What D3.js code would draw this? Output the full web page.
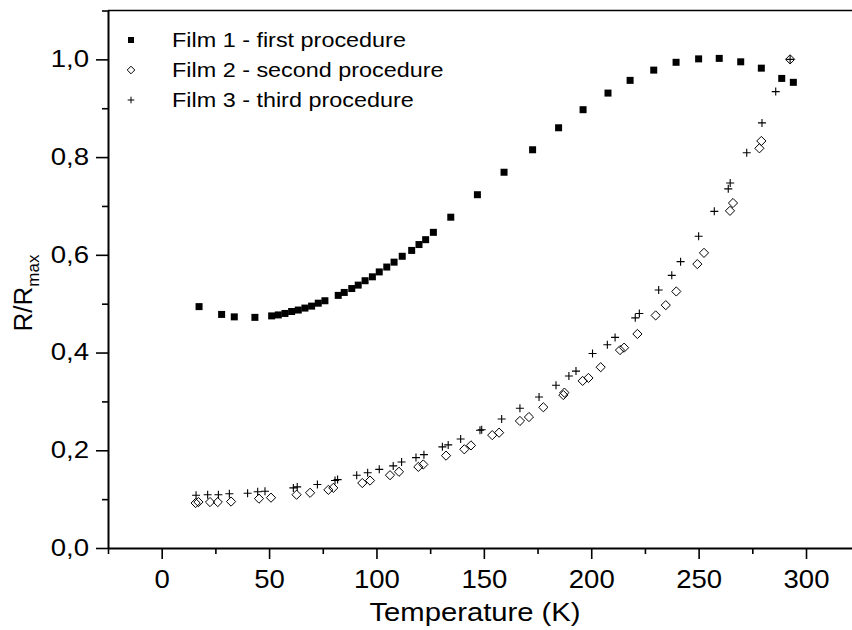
<!DOCTYPE html>
<html>
<head>
<meta charset="utf-8">
<script src="https://cdn.jsdelivr.net/npm/d3@7"></script>
<style>
  body { margin: 0; background: #fff; }
  svg { display: block; font-family: Arial, "Liberation Sans", sans-serif; }
</style>
</head>
<body>
<div id="chart"></div>
<script>
// Film 1 - first procedure (filled squares)
const film1T = [17.4, 27.9, 33.8, 43.4, 51.2, 54.3, 57.4, 60.5, 63.6, 66.7, 69.8, 72.9, 76.0,
  82.2, 85.0, 88.5, 91.5, 94.7, 98.1, 101.3, 104.8, 108.2, 112.0, 116.4, 119.8, 122.9, 126.5,
  134.6, 147.0, 159.4, 172.7, 184.8, 196.2, 207.8, 218.1, 229.1, 239.5, 250.0, 259.6, 269.6,
  279.2, 288.7, 294.1];
const film1R = [0.494, 0.478, 0.473, 0.472, 0.475, 0.477, 0.480, 0.484, 0.487, 0.491, 0.495, 0.501, 0.506,
  0.517, 0.523, 0.531, 0.538, 0.547, 0.555, 0.565, 0.575, 0.585, 0.597, 0.609, 0.621, 0.631, 0.646,
  0.677, 0.723, 0.769, 0.815, 0.860, 0.897, 0.931, 0.957, 0.978, 0.994, 1.001, 1.002, 0.995,
  0.982, 0.961, 0.953];

// Film 2 - second procedure (open diamonds)
const film2T = [15.8, 17.1, 22.5, 26.1, 32.3, 45.3, 50.9, 62.8, 69.1, 77.6, 79.9, 93.4, 97.0,
  106.3, 110.5, 119.5, 121.8, 132.4, 140.9, 144.0, 153.9, 157.1, 166.8, 171.0, 177.7, 187.0,
  187.5, 196.0, 198.7, 204.4, 213.4, 215.3, 221.5, 230.0, 234.7, 239.6, 249.4, 252.5, 264.6,
  266.0, 278.3, 279.2, 292.6];
const film2R = [0.092, 0.094, 0.094, 0.094, 0.095, 0.101, 0.103, 0.109, 0.113, 0.119, 0.123, 0.133, 0.138,
  0.149, 0.156, 0.166, 0.171, 0.189, 0.202, 0.210, 0.231, 0.236, 0.260, 0.268, 0.288, 0.313,
  0.318, 0.342, 0.348, 0.370, 0.405, 0.410, 0.438, 0.476, 0.497, 0.525, 0.581, 0.604, 0.690,
  0.706, 0.818, 0.833, 1.0];

// Film 3 - third procedure (plus signs)
const film3T = [16.0, 21.4, 26.4, 31.5, 40.0, 44.7, 48.1, 61.3, 63.1, 72.5, 80.7, 81.9, 90.8,
  95.9, 101.3, 107.8, 111.7, 118.4, 122.1, 130.7, 133.4, 139.2, 148.2, 149.0, 158.3, 166.8,
  175.7, 183.6, 189.6, 192.9, 200.6, 207.5, 211.1, 220.5, 222.4, 231.4, 237.5, 241.6, 250.0,
  257.3, 263.8, 264.7, 272.4, 279.5, 285.9, 292.6];
const film3R = [0.108, 0.109, 0.109, 0.111, 0.112, 0.115, 0.116, 0.123, 0.125, 0.130, 0.138, 0.140, 0.149,
  0.154, 0.161, 0.168, 0.176, 0.185, 0.191, 0.207, 0.211, 0.223, 0.241, 0.242, 0.264, 0.286,
  0.309, 0.333, 0.352, 0.362, 0.398, 0.416, 0.431, 0.471, 0.480, 0.528, 0.558, 0.586, 0.638,
  0.689, 0.735, 0.747, 0.809, 0.870, 0.934, 1.0];

const xMajor = [0, 50, 100, 150, 200, 250, 300];
const xMinor = [-25, 25, 75, 125, 175, 225, 275];
const yMajor = [0, 0.2, 0.4, 0.6, 0.8, 1.0];
const yMinor = [0.1, 0.3, 0.5, 0.7, 0.9, 1.1];
const legendLabels = ['Film 1 - first procedure', 'Film 2 - second procedure', 'Film 3 - third procedure'];

const W = 852, H = 630;
// the original export is a bit wider than tall in its lettering
const stretch = 1.17;

const svg = d3.select('#chart').append('svg')
  .attr('width', W)
  .attr('height', H);

const x = d3.scaleLinear().domain([-25, 325]).range([108, 859.7]);
const y = d3.scaleLinear().domain([0, 1.1]).range([548, 10.5]);

const comma = d => d3.format('.1f')(d).replace('.', ',');

// marker shapes
const square = s => `M${-s/2},${-s/2}h${s}v${s}h${-s}Z`;
const diamond = r => `M0,${-r}L${r},0L0,${r}L${-r},0Z`;
const plus = r => `M${-r},0H${r}M0,${-r}V${r}`;

// top frame line
svg.append('line')
  .attr('x1', x(-25)).attr('x2', W)
  .attr('y1', y(1.1)).attr('y2', y(1.1))
  .attr('stroke', '#000').attr('stroke-width', 1.5);

// bottom axis
const gx = svg.append('g').attr('transform', `translate(0,${y(0)})`);
gx.call(d3.axisBottom(x).tickValues(xMajor).tickSize(11).tickSizeOuter(0).tickPadding(11).tickFormat(d3.format('d')));
gx.append('g').call(d3.axisBottom(x).tickValues(xMinor).tickSize(6).tickFormat(''))
  .select('.domain').remove();
gx.selectAll('.domain').attr('stroke-width', 2);
gx.selectAll('.tick line').attr('stroke-width', 1.6);
gx.selectAll('.tick text')
  .attr('font-size', 25)
  .attr('font-family', 'Arial, "Liberation Sans", sans-serif')
  .attr('transform', 'scale(1.1,1)');

// left axis
const gy = svg.append('g').attr('transform', `translate(${x(-25)},0)`);
gy.call(d3.axisLeft(y).tickValues(yMajor).tickSize(12).tickSizeOuter(0).tickPadding(7).tickFormat(comma));
gy.append('g').call(d3.axisLeft(y).tickValues(yMinor).tickSize(6).tickFormat(''))
  .select('.domain').remove();
gy.selectAll('.domain').attr('stroke-width', 2);
gy.selectAll('.tick line').attr('stroke-width', 1.6);
gy.selectAll('.tick text')
  .attr('font-size', 23)
  .attr('font-family', 'Arial, "Liberation Sans", sans-serif')
  .attr('x', -19 / 1.2)
  .attr('transform', 'scale(1.2,1)');

// axis titles
svg.append('text')
  .attr('transform', `translate(475,621) scale(${stretch},1)`)
  .attr('text-anchor', 'middle')
  .attr('font-size', 25)
  .text('Temperature (K)');

const yt = svg.append('text')
  .attr('transform', 'translate(32,293) rotate(-90)')
  .attr('text-anchor', 'middle')
  .attr('font-size', 26);
yt.append('tspan').text('R/R');
yt.append('tspan').attr('font-size', 17).attr('dy', 7).text('max');

// data
const plot = svg.append('g');
plot.selectAll('.f1').data(d3.zip(film1T, film1R)).join('path')
  .attr('class', 'f1')
  .attr('transform', d => `translate(${x(d[0])},${y(d[1])})`)
  .attr('d', square(7))
  .attr('fill', '#000');

plot.selectAll('.f2').data(d3.zip(film2T, film2R)).join('path')
  .attr('class', 'f2')
  .attr('transform', d => `translate(${x(d[0])},${y(d[1])})`)
  .attr('d', diamond(4.6))
  .attr('fill', 'none')
  .attr('stroke', '#000')
  .attr('stroke-width', 1);

plot.selectAll('.f3').data(d3.zip(film3T, film3R)).join('path')
  .attr('class', 'f3')
  .attr('transform', d => `translate(${x(d[0])},${y(d[1])})`)
  .attr('d', plus(4))
  .attr('fill', 'none')
  .attr('stroke', '#000')
  .attr('stroke-width', 1.1);

// legend
const legend = svg.append('g');
const rows = [40, 70, 100];
const markers = [
  {d: square(6), fill: '#000', stroke: 'none'},
  {d: diamond(3.8), fill: 'none', stroke: '#000'},
  {d: plus(3.3), fill: 'none', stroke: '#000'}
];
legendLabels.forEach((label, i) => {
  legend.append('path')
    .attr('transform', `translate(131,${rows[i]})`)
    .attr('d', markers[i].d)
    .attr('fill', markers[i].fill)
    .attr('stroke', markers[i].stroke)
    .attr('stroke-width', 1);
  legend.append('text')
    .attr('transform', `translate(172,${rows[i]}) scale(${stretch},1)`)
    .attr('dy', '0.35em')
    .attr('font-size', 20)
    .text(label);
});
</script>
</body>
</html>
